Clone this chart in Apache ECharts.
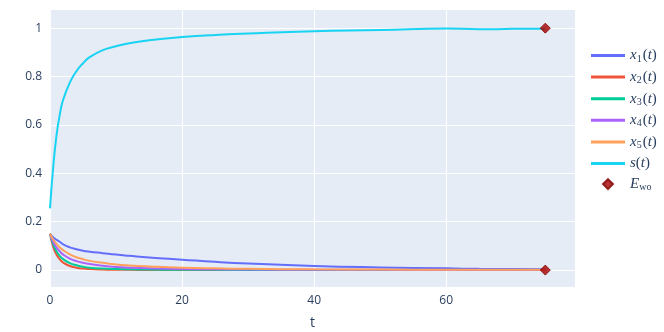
<!DOCTYPE html>
<html>
<head>
<meta charset="utf-8">
<script src="https://cdn.jsdelivr.net/npm/echarts@6/dist/echarts.min.js"></script>
<style>
html, body { margin: 0; padding: 0; background: #fff; }
#chart { width: 664px; height: 332px; }
</style>
</head>
<body>
<div id="chart"></div>
<script>
var t  = [0, 0.5, 1, 1.5, 2, 3, 4, 5, 6, 8, 10, 12, 15, 20, 25, 30, 40, 50, 60, 65, 70, 75];
var x1 = [0.15, 0.135, 0.125, 0.116, 0.106, 0.094, 0.086, 0.08, 0.076, 0.07, 0.064, 0.059, 0.052, 0.043, 0.034, 0.027, 0.017, 0.011, 0.007, 0.005, 0.004, 0.003];
var x2 = [0.15, 0.095, 0.063, 0.044, 0.031, 0.017, 0.01, 0.006, 0.004, 0.002, 0.001, 0.001, 0, 0, 0, 0, 0, 0, 0, 0, 0, 0];
var x3 = [0.15, 0.105, 0.077, 0.058, 0.045, 0.029, 0.02, 0.014, 0.01, 0.006, 0.004, 0.003, 0.002, 0.001, 0.001, 0, 0, 0, 0, 0, 0, 0];
var x4 = [0.15, 0.115, 0.093, 0.077, 0.064, 0.047, 0.037, 0.03, 0.025, 0.018, 0.013, 0.01, 0.007, 0.004, 0.003, 0.002, 0.001, 0.001, 0, 0, 0, 0];
var x5 = [0.15, 0.125, 0.108, 0.093, 0.082, 0.065, 0.053, 0.045, 0.038, 0.03, 0.023, 0.019, 0.015, 0.01, 0.007, 0.005, 0.003, 0.002, 0.001, 0.001, 0.001, 0.001];
var s  = [0.255, 0.43, 0.56, 0.645, 0.705, 0.775, 0.822, 0.855, 0.88, 0.909, 0.925, 0.938, 0.95, 0.963, 0.972, 0.978, 0.987, 0.992, 0.999, 0.995, 0.997, 0.998];
var eq = [[75, 1], [75, 0]];

var xTicks = [0, 20, 40, 60];
var yTicks = [0, 0.2, 0.4, 0.6, 0.8, 1];

var names = ['x1(t)', 'x2(t)', 'x3(t)', 'x4(t)', 'x5(t)', 's(t)'];
var colors = ['#636efa', '#EF553B', '#00cc96', '#ab63fa', '#FFA15A', '#19d3f3'];
var lists = [x1, x2, x3, x4, x5, s];

function pairs(arr) {
    return t.map(function (v, i) { return [v, arr[i]]; });
}

var labels = {
    'x1(t)': '{v|x}{sub|1}{p|(}{v|t}{p|)}',
    'x2(t)': '{v|x}{sub|2}{p|(}{v|t}{p|)}',
    'x3(t)': '{v|x}{sub|3}{p|(}{v|t}{p|)}',
    'x4(t)': '{v|x}{sub|4}{p|(}{v|t}{p|)}',
    'x5(t)': '{v|x}{sub|5}{p|(}{v|t}{p|)}',
    's(t)': '{v|s}{p|(}{v|t}{p|)}',
    'E_wo': '{v|E}{sub|wo}'
};

// legend glyphs
var lineIcon = 'path://M0,0H34V3H0Z';
var diamondIcon = 'path://M5,0L10,5L5,10L0,5Z';

var series = lists.map(function (arr, i) {
    return {
        name: names[i],
        type: 'line',
        data: pairs(arr),
        symbol: 'none',
        smooth: true,
        lineStyle: { width: 2, color: colors[i] },
        itemStyle: { color: colors[i] }
    };
});
series.push({
    name: 'E_wo',
    type: 'scatter',
    data: eq,
    symbol: 'diamond',
    symbolSize: 10,
    z: 5,
    itemStyle: { color: '#a80000', borderColor: '#800000', borderWidth: 1 }
});

var legendData = names.map(function (n) { return { name: n, icon: lineIcon }; });
legendData.push({ name: 'E_wo', icon: diamondIcon });

var myChart = echarts.init(document.getElementById('chart'));
option = {
    animation: false,
    textStyle: { fontFamily: 'Open Sans' },
    grid: {
        left: 50, right: 89, top: 10, bottom: 45,
        outerBoundsMode: 'none',
        containLabel: false,
        show: true, backgroundColor: '#E5ECF6', borderWidth: 0
    },
    legend: {
        orient: 'vertical',
        left: 591,
        top: 48,
        padding: 0,
        itemWidth: 34,
        itemHeight: 10,
        itemGap: 5.6,
        symbolKeepAspect: true,
        data: legendData,
        formatter: function (name) { return labels[name]; },
        textStyle: {
            color: '#2a3f5f',
            rich: {
                v: { fontFamily: 'Liberation Serif', fontStyle: 'italic', fontSize: 15, color: '#2a3f5f' },
                p: { fontFamily: 'Liberation Serif', fontSize: 15, color: '#2a3f5f' },
                sub: { fontFamily: 'Liberation Serif', fontSize: 10, color: '#2a3f5f', padding: [7, 1, 0, 0] }
            }
        }
    },
    xAxis: {
        type: 'value',
        min: 0,
        max: 79.5,
        name: 't',
        nameLocation: 'middle',
        nameGap: 29,
        nameTextStyle: { color: '#2a3f5f', fontSize: 14 },
        axisLine: { show: false },
        axisTick: { show: false, customValues: xTicks },
        axisLabel: { color: '#2a3f5f', fontSize: 12, margin: 8, customValues: xTicks },
        splitLine: { lineStyle: { color: '#fff', width: 1 } }
    },
    yAxis: {
        type: 'value',
        min: -0.07,
        max: 1.075,
        axisLine: { show: false },
        axisTick: { show: false, customValues: yTicks },
        axisLabel: { color: '#2a3f5f', fontSize: 12, margin: 8, customValues: yTicks },
        splitLine: { lineStyle: { color: '#fff', width: 1 } }
    },
    series: series
};
myChart.setOption(option);
</script>
</body>
</html>
